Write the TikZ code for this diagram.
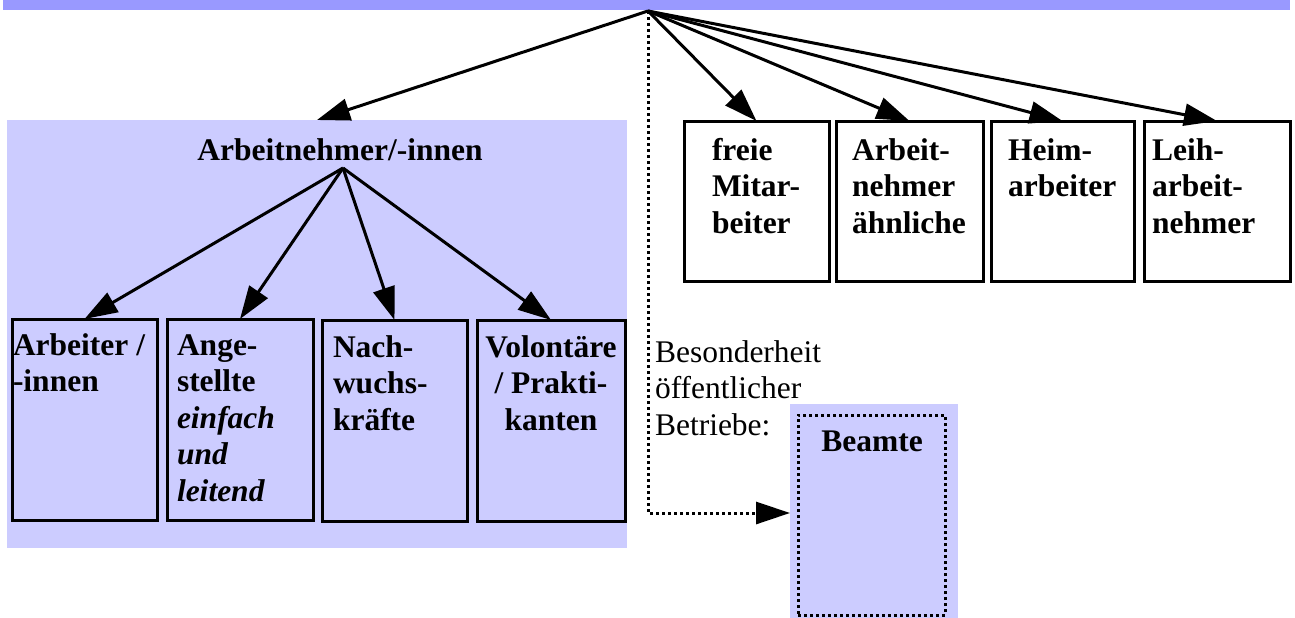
\documentclass[tikz,border=0pt]{standalone}
\usepackage{fontspec}
\setmainfont{Liberation Serif}
\usetikzlibrary{arrows.meta}
\definecolor{barblue}{HTML}{9999FF}
\definecolor{panel}{HTML}{CCCCFF}
% fixed-height strut for the first line of each label, so that a label's
% top edge lies exactly 24pt above its first baseline
\newcommand\lnstrut{\rule{0pt}{24pt}}
\begin{document}
\begin{tikzpicture}[x=1pt,y=-1pt,
  every node/.style={inner sep=0pt, outer sep=0pt},
  area/.style={fill=#1, anchor=north west},
  catbox/.style={draw=black, line width=3pt, anchor=north west},
  dotbox/.style={draw=black, line width=3pt, dash pattern=on 3pt off 3pt, anchor=north west},
  lbl/.style={anchor=north west, align=left, font=\bfseries\fontsize{31.5}{36.5}\selectfont},
  note/.style={anchor=north west, align=left, font=\fontsize{31.5}{36.5}\selectfont},
  arr/.style={line width=3pt, -{Triangle[length=33pt,width=22pt]}},
  dotarr/.style={line width=3pt, dash pattern=on 3pt off 3pt, -{Triangle[length=34pt,width=22pt]}}
]
\useasboundingbox (0,0) rectangle (1295,618);

% background areas
\node[area=barblue, minimum width=1287pt, minimum height=10pt] (bar) at (3,0) {};
\node[area=panel, minimum width=620pt, minimum height=428pt] (grp) at (7,120) {};
\node[area=panel, minimum width=168pt, minimum height=214pt] (bbg) at (790,404) {};
\node[dotbox, minimum width=147pt, minimum height=200pt] (bbox) at (798,415) {};

% employee categories
\node[catbox, minimum width=145pt, minimum height=201pt] (b1) at (12,319) {};
\node[catbox, minimum width=146pt, minimum height=201pt] (b2) at (167,319) {};
\node[catbox, minimum width=145pt, minimum height=201pt] (b3) at (322,320) {};
\node[catbox, minimum width=148pt, minimum height=201pt] (b4) at (477,320) {};

% other groups
\node[catbox, minimum width=145pt, minimum height=160pt] (r1) at (684,121) {};
\node[catbox, minimum width=147pt, minimum height=160pt] (r2) at (836,121) {};
\node[catbox, minimum width=143pt, minimum height=160pt] (r3) at (991,121) {};
\node[catbox, minimum width=146pt, minimum height=160pt] (r4) at (1144,121) {};

% labels (position = top edge, 24pt above the first baseline)
\node[lbl, anchor=north] (ttl) at (340,136) {\lnstrut Arbeitnehmer/-innen};
\node[lbl] (t1) at (13,331) {\lnstrut Arbeiter /\\-innen};
\node[lbl] (t2) at (177,331) {\lnstrut Ange-\\stellte\\\textit{einfach}\\\textit{und}\\\textit{leitend}};
\node[lbl] (t3) at (333,333) {\lnstrut Nach-\\wuchs-\\kräfte};
\node[lbl, anchor=north, align=center] (t4) at (551,333) {\lnstrut Volontäre\\/ Prakti-\\kanten};
\node[lbl] (s1) at (712,136) {\lnstrut freie\\Mitar-\\beiter};
\node[lbl] (s2) at (852,136) {\lnstrut Arbeit-\\nehmer\\ähnliche};
\node[lbl] (s3) at (1008,136) {\lnstrut Heim-\\arbeiter};
\node[lbl] (s4) at (1152,136) {\lnstrut Leih-\\arbeit-\\nehmer};
\node[note] (nt) at (655,338) {\lnstrut Besonderheit\\öffentlicher\\Betriebe:};
\node[lbl, anchor=north] (bt) at (872,427) {\lnstrut Beamte};

% connectors
\coordinate (root) at (648,11);
\coordinate (hub) at (343,168);
\draw[arr] (root) -- (grp.north);
\draw[arr] (root) -- (r1.north);
\draw[arr] (root) -- (r2.north);
\draw[arr] (root) -- (r3.north);
\draw[arr] (root) -- (r4.north);
\draw[arr] (hub) -- (b1.north);
\draw[arr] (hub) -- (b2.north);
\draw[arr] (hub) -- (b3.north);
\draw[arr] (hub) -- (b4.north);
\draw[dotarr] (root) |- ([yshift=-2pt]bbg.west);
\end{tikzpicture}
\end{document}
